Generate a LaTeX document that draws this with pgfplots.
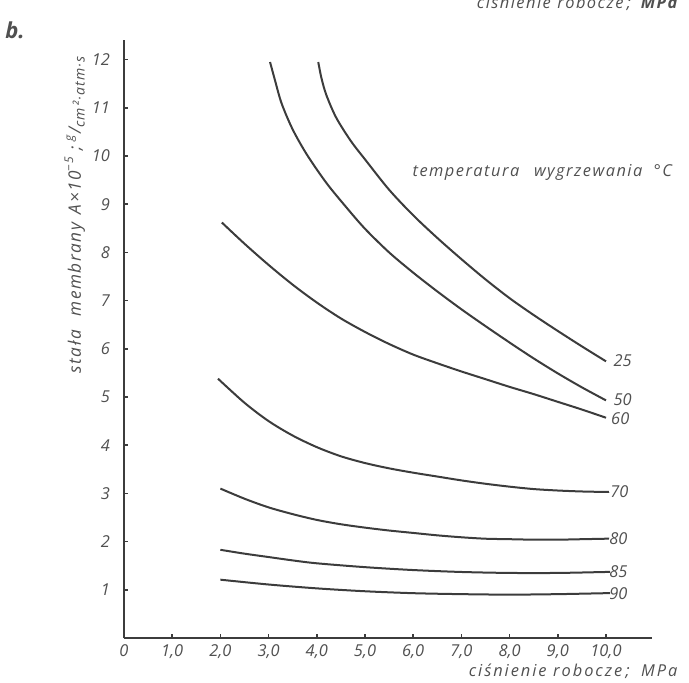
\documentclass[border=0pt]{standalone}
\usepackage{fontspec}
\usepackage{pgfplots}
\pgfplotsset{compat=1.18}
\newfontfamily\lett{Open Sans}
\newfontfamily\lettsp[LetterSpace=9]{Open Sans}
\newfontfamily\lettxsp[LetterSpace=12]{Open Sans}
\definecolor{ink}{RGB}{60,60,60}
\definecolor{txt}{RGB}{80,80,80}
\newcommand{\lt}{\lett\itshape\fontsize{8.2}{9}\selectfont}
\newcommand{\ls}{\lettsp\itshape\fontsize{8.2}{9}\selectfont}
\newcommand{\lsx}{\lettxsp\itshape\fontsize{8.2}{9}\selectfont}
\newcommand{\lsy}{\lettsp\itshape\fontsize{8.6}{9}\selectfont}

\begin{document}
\begin{tikzpicture}
\begin{axis}[
  x=24.1pt, y=24.1pt,
  xmin=0, xmax=10.95, ymin=0, ymax=12.4,
  axis lines=left,
  axis line style={-, line width=1.2pt, color=ink},
  xtick={0,1,2,3,4,5,6,7,8,9,10},
  xticklabels={0,{1,0},{2,0},{3,0},{4,0},{5,0},{6,0},{7,0},{8,0},{9,0},{10,0}},
  ytick={1,2,3,4,5,6,7,8,9,10,11,12},
  tick align=inside,
  major tick length=2pt,
  tick style={color=ink, line width=0.8pt},
  ticklabel style={font=\lt, color=txt},
  /pgf/number format/assume math mode=true,
  yticklabel style={xshift=-3.5pt},
  clip=false,
]
% 25
\addplot[ink, line width=1pt, smooth] coordinates {
  (4.03,11.95)(4.1,11.6)(4.2,11.26)(4.4,10.8)(4.7,10.32)(5.0,9.93)(5.5,9.30)
  (6.0,8.77)(6.5,8.30)(7.0,7.86)(7.5,7.44)(8.0,7.05)(8.5,6.70)(9.0,6.37)
  (9.5,6.05)(10,5.74)
};
% 50
\addplot[ink, line width=1pt, smooth] coordinates {
  (3.03,11.95)(3.13,11.58)(3.27,11.09)(3.5,10.55)(3.8,10.02)(4.2,9.44)(4.6,8.95)
  (5.0,8.49)(5.5,8.00)(6.0,7.58)(6.5,7.19)(7.0,6.82)(7.5,6.47)(8.0,6.13)
  (8.5,5.80)(9.0,5.49)(9.5,5.20)(10,4.93)
};
% 60
\addplot[ink, line width=1pt, smooth] coordinates {
  (2.03,8.62)(2.5,8.18)(3.0,7.74)(3.5,7.33)(4.0,6.96)(4.5,6.63)(5.0,6.35)
  (5.5,6.10)(6.0,5.88)(6.5,5.70)(7.0,5.53)(7.5,5.37)(8.0,5.21)(8.5,5.06)
  (9.0,4.90)(9.5,4.74)(10,4.57)
};
% 70
\addplot[ink, line width=1pt, smooth] coordinates {
  (1.95,5.38)(2.5,4.88)(3.0,4.50)(3.5,4.20)(4.0,3.96)(4.5,3.77)(5.0,3.63)
  (5.5,3.52)(6.0,3.43)(6.5,3.35)(7.0,3.27)(7.5,3.20)(8.0,3.14)(8.5,3.09)
  (9.0,3.06)(9.5,3.04)(10,3.03)(10.06,3.03)
};
% 80
\addplot[ink, line width=1pt, smooth] coordinates {
  (2.0,3.10)(2.5,2.89)(3.0,2.71)(3.5,2.57)(4.0,2.45)(4.5,2.36)(5.0,2.29)
  (5.5,2.23)(6.0,2.18)(6.5,2.13)(7.0,2.09)(7.5,2.06)(8.0,2.05)(8.5,2.04)
  (9.0,2.04)(9.5,2.05)(10,2.06)(10.06,2.06)
};
% 85
\addplot[ink, line width=1pt, smooth] coordinates {
  (2.0,1.83)(2.5,1.75)(3.0,1.68)(3.5,1.61)(4.0,1.55)(5.0,1.47)(6.0,1.41)
  (7.0,1.37)(8.0,1.35)(9.0,1.35)(10,1.37)(10.06,1.37)
};
% 90
\addplot[ink, line width=1pt, smooth] coordinates {
  (2.0,1.21)(3.0,1.11)(4.0,1.03)(5.0,0.97)(6.0,0.93)(7.0,0.91)(8.0,0.90)
  (9.0,0.91)(10,0.93)(10.06,0.93)
};

\node[anchor=west, font=\lt, color=txt, inner sep=0pt] at (axis cs:10.15,5.76) {25};
\node[anchor=west, font=\lt, color=txt, inner sep=0pt] at (axis cs:10.15,4.94) {50};
\node[anchor=west, font=\lt, color=txt, inner sep=0pt] at (axis cs:10.1,4.56) {60};
\node[anchor=west, font=\lt, color=txt, inner sep=0pt] at (axis cs:10.08,3.03) {70};
\node[anchor=west, font=\lt, color=txt, inner sep=0pt] at (axis cs:10.06,2.06) {80};
\node[anchor=west, font=\lt, color=txt, inner sep=0pt] at (axis cs:10.06,1.37) {85};
\node[anchor=west, font=\lt, color=txt, inner sep=0pt] at (axis cs:10.06,0.93) {90};

\node[anchor=west, font=\ls, color=txt, inner sep=0pt] at (axis cs:5.98,9.65)
  {temperatura\hspace{0.9em}wygrzewania\hspace{0.7em}°C};

\node[anchor=base east, font=\lsx, color=txt, inner sep=0pt] at (axis cs:11.49,-0.80)
  {ciśnienie\hspace{0.4em}robocze\hspace{0.2em};\hspace{0.7em}MPa};

\node[rotate=90, font=\lsy, color=txt, inner sep=0pt] at (axis cs:-1.02,8.78)
  {stała\hspace{0.8em}membrany\hspace{0.5em}A×10\textsuperscript{−5}\hspace{0.3em};\hspace{0.3em}\textsuperscript{g}/\raisebox{-0.4ex}{\fontsize{7}{8}\selectfont cm²·atm·s}};

\node[font={\lett\bfseries\itshape\fontsize{11}{12}\selectfont}, color=txt, inner sep=0pt] at (axis cs:-2.26,12.61) {b.};

\node[anchor=base east, font={\ls}, color=txt, inner sep=0pt] at (axis cs:11.49,13.07)
  {ciśnienie\hspace{0.4em}robocze\hspace{0.2em};\hspace{0.6em}{\bfseries MPa}};
\end{axis}
\pgfresetboundingbox
\path[use as bounding box] (-62pt,-22pt) rectangle (282.5pt,319pt);
\end{tikzpicture}
\end{document}
